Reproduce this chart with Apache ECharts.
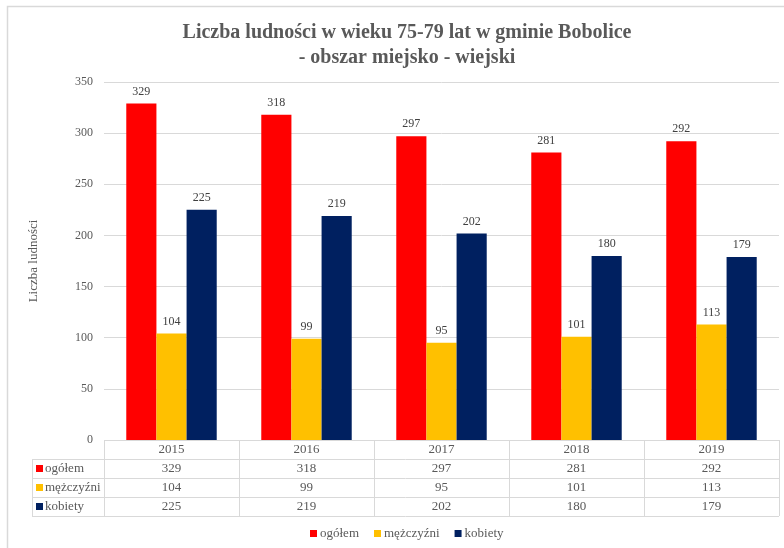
<!DOCTYPE html>
<html lang="pl">
<head>
<meta charset="utf-8">
<title>Liczba ludności 75-79</title>
<script src="https://cdn.jsdelivr.net/npm/echarts@6/dist/echarts.min.js"></script>
<style>
  html, body { margin: 0; padding: 0; background: #fff; }
  #chart { width: 784px; height: 548px; }
</style>
</head>
<body>
<div id="chart"></div>
<script>
// dane
var years = ['2015', '2016', '2017', '2018', '2019'];
var seriesNames = ['ogółem', 'mężczyźni', 'kobiety'];
var ogolem = [329, 318, 297, 281, 292];
var mezczyzni = [104, 99, 95, 101, 113];
var kobiety = [225, 219, 202, 180, 179];
var colors = ['#ff0000', '#ffc000', '#002060'];

var font = 'Liberation Serif';
var gray = '#595959';
var lineColor = '#d9d9d9';

var myChart = echarts.init(document.getElementById('chart'));

function barSeries(name, data, color) {
    return {
        name: name,
        type: 'bar',
        data: data,
        barGap: '0%',
        barCategoryGap: '33%',
        itemStyle: { color: color },
        label: {
            show: true,
            position: 'top',
            distance: 6,
            color: '#404040',
            fontFamily: font,
            fontSize: 12
        }
    };
}

var option = {
    animation: false,
    title: {
        text: 'Liczba ludności w wieku 75-79 lat w gminie Bobolice\n- obszar miejsko - wiejski',
        left: 402,
        textAlign: 'center',
        top: 15,
        textStyle: {
            fontFamily: font,
            fontSize: 20,
            fontWeight: 'bold',
            color: gray,
            lineHeight: 25
        }
    },
    legend: {
        bottom: 3,
        left: 305,
        icon: 'rect',
        itemWidth: 7,
        itemHeight: 7,
        itemGap: 15,
        textStyle: { fontFamily: font, fontSize: 13, color: gray, padding: [0, 0, 0, -2] },
        data: seriesNames
    },
    grid: { left: 104, right: 5, top: 82, bottom: 108 },
    xAxis: {
        type: 'category',
        data: years,
        axisLine: { show: false },
        axisTick: { show: false },
        axisLabel: { show: false }
    },
    yAxis: {
        type: 'value',
        min: 0,
        max: 350,
        interval: 50,
        name: 'Liczba ludności',
        nameLocation: 'middle',
        nameGap: 64,
        nameTextStyle: { fontFamily: font, fontSize: 13, color: gray },
        axisLine: { show: false },
        axisTick: { show: false },
        axisLabel: { fontFamily: font, fontSize: 12, color: gray, margin: 11 },
        splitLine: { lineStyle: { color: lineColor } }
    },
    series: [
        barSeries(seriesNames[0], ogolem, colors[0]),
        barSeries(seriesNames[1], mezczyzni, colors[1]),
        barSeries(seriesNames[2], kobiety, colors[2])
    ]
};
myChart.setOption(option);

// tabela danych pod osią X
var rows = [ogolem, mezczyzni, kobiety];
var rowH = 19;
var tableLeft = 32;
var x0 = myChart.convertToPixel({ xAxisIndex: 0 }, years[0]);
var x1 = myChart.convertToPixel({ xAxisIndex: 0 }, years[1]);
var step = x1 - x0;
var plotLeft = x0 - step / 2;
var plotRight = plotLeft + step * years.length;
var yTop = myChart.convertToPixel({ yAxisIndex: 0 }, 0);
var yBottom = yTop + rowH * (rows.length + 1);

var els = [];
var lineStyle = { stroke: lineColor, lineWidth: 1 };
// ramka wykresu
els.push({ type: 'rect', shape: { x: 7.5, y: 6.5, width: 800, height: 600 }, style: { fill: null, stroke: lineColor, lineWidth: 1.5 }, silent: true });
// poziome linie
els.push({ type: 'line', shape: { x1: plotLeft, y1: yTop + 0.5, x2: plotRight, y2: yTop + 0.5 }, style: lineStyle });
for (var r = 1; r <= rows.length + 1; r++) {
    var yy = Math.round(yTop + r * rowH) + 0.5;
    els.push({ type: 'line', shape: { x1: tableLeft, y1: yy, x2: plotRight, y2: yy }, style: lineStyle });
}
// pionowe linie
els.push({ type: 'line', shape: { x1: tableLeft + 0.5, y1: yTop + rowH, x2: tableLeft + 0.5, y2: yBottom }, style: lineStyle });
for (var c = 0; c <= years.length; c++) {
    var xx = Math.round(plotLeft + c * step) + 0.5;
    els.push({ type: 'line', shape: { x1: xx, y1: yTop, x2: xx, y2: yBottom }, style: lineStyle });
}
var txt = { fontFamily: font, fontSize: 13, fill: gray, align: 'center', verticalAlign: 'middle' };
// nagłówki lat
years.forEach(function (y, i) {
    els.push({ type: 'text', x: plotLeft + step * (i + 0.5), y: yTop + rowH / 2, style: Object.assign({ text: y }, txt) });
});
// wiersze
rows.forEach(function (row, r) {
    var cy = yTop + rowH * (r + 1.5);
    els.push({ type: 'rect', shape: { x: tableLeft + 4, y: cy - 3.5, width: 7, height: 7 }, style: { fill: colors[r] } });
    els.push({ type: 'text', x: tableLeft + 13, y: cy, style: Object.assign({}, txt, { text: seriesNames[r], align: 'left' }) });
    row.forEach(function (v, i) {
        els.push({ type: 'text', x: plotLeft + step * (i + 0.5), y: cy, style: Object.assign({ text: String(v) }, txt) });
    });
});
myChart.setOption({ graphic: { elements: els } });
</script>
</body>
</html>
